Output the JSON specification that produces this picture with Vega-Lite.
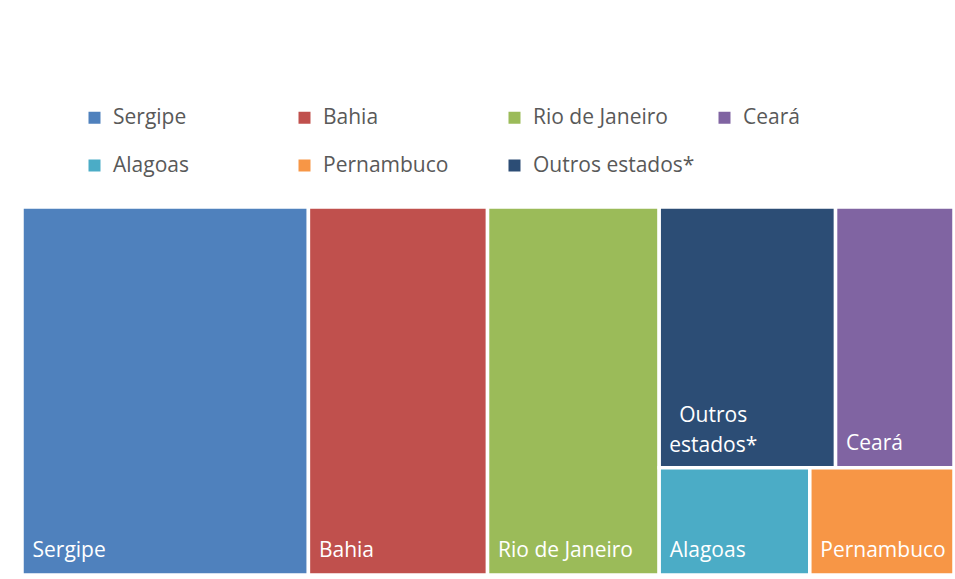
{
  "$schema": "https://vega.github.io/schema/vega-lite/v6.json",
  "autosize": {"type": "none"},
  "padding": {"left": 22, "top": 207, "right": 1, "bottom": 4},
  "width": 932,
  "height": 368,
  "background": "white",
  "config": {"view": {"stroke": null}, "font": "Open Sans"},
  "data": {
    "values": [
      {"state": "Sergipe", "value": 30.7, "grupo": "Sergipe", "linha": "única"},
      {"state": "Bahia", "value": 19.2, "grupo": "Bahia", "linha": "única"},
      {"state": "Rio de Janeiro", "value": 18.4, "grupo": "Rio de Janeiro", "linha": "única"},
      {"state": "Outros estados*", "value": 13.4, "grupo": "demais", "linha": "superior"},
      {"state": "Ceará", "value": 9.0, "grupo": "demais", "linha": "superior"},
      {"state": "Alagoas", "value": 4.7, "grupo": "demais", "linha": "inferior"},
      {"state": "Pernambuco", "value": 4.5, "grupo": "demais", "linha": "inferior"}
    ]
  },
  "transform": [
    {"joinaggregate": [{"op": "sum", "field": "value", "as": "groupTotal"}], "groupby": ["grupo"]},
    {"joinaggregate": [{"op": "sum", "field": "value", "as": "rowTotal"}], "groupby": ["grupo", "linha"]},
    {"stack": "value", "groupby": [], "sort": [{"field": "value", "order": "descending"}], "as": ["s0", "s1"]},
    {"joinaggregate": [{"op": "min", "field": "s0", "as": "gx0"}, {"op": "max", "field": "s1", "as": "gx1"}], "groupby": ["grupo"]},
    {"stack": "value", "groupby": ["grupo"], "sort": [{"field": "value", "order": "descending"}], "as": ["r0", "r1"]},
    {"joinaggregate": [{"op": "min", "field": "r0", "as": "ry0"}, {"op": "max", "field": "r1", "as": "ry1"}], "groupby": ["grupo", "linha"]},
    {"stack": "value", "groupby": ["grupo", "linha"], "sort": [{"field": "value", "order": "descending"}], "as": ["c0", "c1"]},
    {"calculate": "datum.gx0 + (datum.gx1 - datum.gx0) * datum.c0 / datum.rowTotal", "as": "x0"},
    {"calculate": "datum.gx0 + (datum.gx1 - datum.gx0) * datum.c1 / datum.rowTotal", "as": "x1"},
    {"calculate": "datum.ry0 / datum.groupTotal", "as": "y0"},
    {"calculate": "datum.ry1 / datum.groupTotal", "as": "y1"}
  ],
  "layer": [
    {
      "mark": {"type": "rect", "stroke": "white", "strokeWidth": 3.5},
      "encoding": {
        "x": {"field": "x0", "type": "quantitative", "scale": {"nice": false, "zero": true, "padding": 0}, "axis": null},
        "x2": {"field": "x1"},
        "y": {"field": "y0", "type": "quantitative", "scale": {"domain": [0, 1], "reverse": true, "nice": false}, "axis": null},
        "y2": {"field": "y1"},
        "color": {
          "field": "state",
          "type": "nominal",
          "scale": {
            "domain": ["Sergipe", "Bahia", "Rio de Janeiro", "Ceará", "Alagoas", "Pernambuco", "Outros estados*"],
            "range": ["#4F81BD", "#C0504D", "#9BBB59", "#8064A2", "#4BACC6", "#F79646", "#2C4D75"]
          },
          "legend": {
            "title": null,
            "orient": "none",
            "legendX": 62,
            "legendY": -100,
            "direction": "horizontal",
            "columns": 4,
            "gridAlign": "all",
            "padding": 0,
            "symbolType": "square",
            "symbolSize": 144,
            "symbolStrokeWidth": 0,
            "symbolOpacity": 1,
            "labelFont": "Open Sans",
            "labelFontSize": 21,
            "labelColor": "#595959",
            "labelOffset": 8,
            "labelLimit": 300,
            "rowPadding": 26,
            "columnPadding": 19
          }
        }
      }
    },
    {
      "transform": [{"filter": "datum.state !== 'Outros estados*'"}],
      "mark": {"type": "text", "align": "left", "baseline": "alphabetic", "dx": 10.5, "dy": -18, "color": "white", "font": "Open Sans", "fontSize": 21},
      "encoding": {
        "x": {"field": "x0", "type": "quantitative"},
        "y": {"field": "y1", "type": "quantitative"},
        "text": {"field": "state"}
      }
    },
    {
      "transform": [{"filter": "datum.state === 'Outros estados*'"}],
      "mark": {"type": "text", "align": "center", "baseline": "alphabetic", "dx": 54, "dy": -46, "lineBreak": " ", "lineHeight": 30, "color": "white", "font": "Open Sans", "fontSize": 21},
      "encoding": {
        "x": {"field": "x0", "type": "quantitative"},
        "y": {"field": "y1", "type": "quantitative"},
        "text": {"field": "state"}
      }
    }
  ]
}
